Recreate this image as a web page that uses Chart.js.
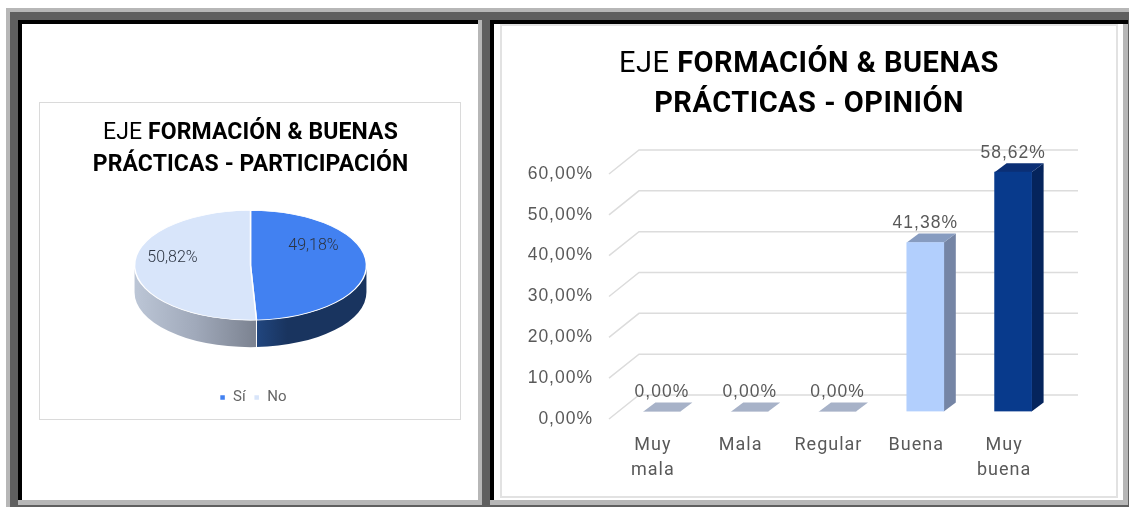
<!DOCTYPE html>
<html lang="es">
<head>
<meta charset="utf-8">
<title>Eje Formación & Buenas Prácticas</title>
<script src="https://cdn.jsdelivr.net/npm/chart.js@4/dist/chart.umd.min.js"></script>
<style>
html,body{margin:0;padding:0;background:#fff;overflow:hidden}
body{width:1129px;height:507px;position:relative}
.r{position:absolute}
canvas{position:absolute;display:block}
</style>
</head>
<body>
<div class="r" style="left:6px;top:8px;width:1123px;height:499px;background:#b7b7b7"></div>
<div class="r" style="left:10px;top:12px;width:1119px;height:495px;background:#5f5f5f"></div>
<div class="r" style="left:18px;top:20px;width:464px;height:485px;background:#b7b7b7"></div>
<div class="r" style="left:18px;top:20px;width:460px;height:480px;background:#000"></div>
<div class="r" style="left:22px;top:24px;width:456px;height:476px;background:#fff"></div>
<div class="r" style="left:490px;top:20px;width:638px;height:485px;background:#b7b7b7"></div>
<div class="r" style="left:490px;top:20px;width:638px;height:4px;background:#000"></div>
<div class="r" style="left:490px;top:20px;width:633px;height:480px;background:#000"></div>
<div class="r" style="left:494px;top:24px;width:629px;height:476px;background:#fff"></div>
<div class="r" style="left:39px;top:102px;width:420px;height:316px;border:1px solid #dadada"></div>
<div class="r" style="left:500px;top:24px;width:614px;height:470px;border:2px solid #e2e2e2"></div>
<canvas id="pie" width="423" height="319" style="left:39px;top:102px"></canvas>
<canvas id="bar" width="618" height="474" style="left:500px;top:24px"></canvas>
<script>
const pieCategories = ['Sí', 'No'];
const pieValues = [49.18, 50.82];
const pieTitle = [[['EJE ', 400], ['FORMACIÓN & BUENAS', 700]], [['PRÁCTICAS - PARTICIPACIÓN', 700]]];

const barCategories = [['Muy', 'mala'], 'Mala', 'Regular', 'Buena', ['Muy', 'buena']];
const barValues = [0, 0, 0, 41.38, 58.62];
const barTitle = [[['EJE ', 400], ['FORMACIÓN & BUENAS', 700]], [['PRÁCTICAS - OPINIÓN', 700]]];

const pct = v => v.toFixed(2).replace('.', ',') + '%';
Chart.defaults.animation = false;
Chart.defaults.responsive = false;
Chart.defaults.plugins.tooltip.enabled = false;

function drawTitle(chart, lines, size, baselines, spacing) {
  const ctx = chart.ctx, cx = chart.width / 2;
  ctx.save();
  ctx.fillStyle = '#000';
  ctx.textBaseline = 'alphabetic';
  ctx.textAlign = 'left';
  ctx.letterSpacing = spacing + 'px';
  lines.forEach((runs, i) => {
    let w = 0;
    runs.forEach(r => { ctx.font = r[1] + ' ' + size + 'px Roboto'; w += ctx.measureText(r[0]).width; });
    let x = cx - w / 2;
    runs.forEach(r => {
      ctx.font = r[1] + ' ' + size + 'px Roboto';
      ctx.fillText(r[0], x, baselines[i]);
      x += ctx.measureText(r[0]).width;
    });
  });
  ctx.restore();
}

/* ---------- 3-D pie ---------- */
const SQUASH = 0.473, PIE_DEPTH = 27;
const pieSides = [['#21467f', '#19345f', '#19345f'], ['#7b8290', '#a0a9ba', '#bcc6d6']];
const pieLabelOffsets = [[63, -19], [-78, -7]];
const pie3d = {
  id: 'pie3d',
  afterLayout(chart) { chart.legend.left += 2.5; chart.legend.right += 2.5; },
  beforeDatasetsDraw(chart) {
    const ctx = chart.ctx, arcs = chart.getDatasetMeta(0).data;
    const a0 = arcs[0], r = a0.outerRadius, ry = r * SQUASH;
    const cx = a0.x, cy = a0.y;
    arcs.forEach((arc, i) => {
      const s = Math.max(arc.startAngle, 0), e = Math.min(arc.endAngle, Math.PI);
      if (e <= s) return;
      const x0 = cx + r * Math.cos(s), x1 = cx + r * Math.cos(e);
      const g = ctx.createLinearGradient(x0, 0, x1, 0);
      const c = pieSides[i];
      if (i === 0) { g.addColorStop(0, c[2]); g.addColorStop(0.72, c[1]); g.addColorStop(1, c[0]); }
      else { g.addColorStop(0, c[0]); g.addColorStop(0.5, c[1]); g.addColorStop(1, c[2]); }
      ctx.beginPath();
      ctx.ellipse(cx, cy, r, ry, 0, s, e);
      ctx.ellipse(cx, cy + PIE_DEPTH, r, ry, 0, e, s, true);
      ctx.closePath();
      ctx.fillStyle = g;
      ctx.fill();
    });
    /* seam on the wall where the two slices meet */
    const seam = arcs[0].endAngle;
    ctx.strokeStyle = '#fff'; ctx.lineWidth = 1;
    ctx.beginPath();
    ctx.moveTo(cx + r * Math.cos(seam), cy + ry * Math.sin(seam));
    ctx.lineTo(cx + r * Math.cos(seam), cy + ry * Math.sin(seam) + PIE_DEPTH);
    ctx.stroke();
    ctx.save();
    ctx.translate(cx, cy); ctx.scale(1, SQUASH); ctx.translate(-cx, -cy);
  },
  afterDatasetsDraw(chart) {
    const ctx = chart.ctx, arcs = chart.getDatasetMeta(0).data;
    ctx.restore();
    ctx.save();
    ctx.font = '300 16px Roboto';
    ctx.fillStyle = '#2c3442';
    ctx.textAlign = 'center'; ctx.textBaseline = 'middle';
    arcs.forEach((arc, i) => {
      ctx.fillText(pct(pieValues[i]), arc.x + pieLabelOffsets[i][0], arc.y + pieLabelOffsets[i][1]);
    });
    ctx.restore();
    drawTitle(chart, pieTitle, 23, [37, 68.7], 0.1);
  }
};
new Chart(document.getElementById('pie'), {
  type: 'pie',
  data: { labels: pieCategories, datasets: [{
    data: pieValues,
    backgroundColor: ['#4281f1', '#d8e5fa'],
    borderColor: '#ffffff', borderWidth: 1.5
  }]},
  options: {
    layout: { padding: { top: 46.6, bottom: 6, left: 6, right: 6 } },
    plugins: {
      legend: { position: 'bottom', labels: { boxWidth: 6, boxHeight: 6, padding: 8, color: '#666666',
        font: { family: 'Roboto', size: 15 } } }
    }
  },
  plugins: [pie3d]
});

/* ---------- 3-D bars ---------- */
const WALL_DX = 30, WALL_DY = 24, BAR_DX = 9, BAR_DY = 7.5, SIDE_DX = 12, SIDE_DY = 9;
const barFronts = ['#a7b2c8', '#a7b2c8', '#a7b2c8', '#b2cffd', '#083a8c'];
const barTops = ['#a7b2c8', '#a7b2c8', '#a7b2c8', '#879cc0', '#0b2f75'];
const barSides = ['#a7b2c8', '#a7b2c8', '#a7b2c8', '#7585a5', '#05245c'];
const bar3d = {
  id: 'bar3d',
  beforeDraw(chart) { chart.ctx.letterSpacing = '1px'; },
  beforeDatasetsDraw(chart) {
    const ctx = chart.ctx, sy = chart.scales.y, a = chart.chartArea;
    ctx.save();
    ctx.strokeStyle = '#dcdcdc'; ctx.lineWidth = 1.5;
    sy.ticks.forEach(t => {
      const y = sy.getPixelForValue(t.value);
      ctx.beginPath();
      ctx.moveTo(a.left, y);
      ctx.lineTo(a.left + WALL_DX, y - WALL_DY);
      ctx.lineTo(a.right + WALL_DX, y - WALL_DY);
      ctx.stroke();
    });
    ctx.restore();
    ctx.save();
    ctx.translate(BAR_DX, -BAR_DY);
    chart.getDatasetMeta(0).data.forEach((b, i) => {
      const l = b.x - b.width / 2, r = b.x + b.width / 2, top = b.y, base = b.base;
      ctx.fillStyle = barSides[i];
      ctx.beginPath();
      ctx.moveTo(r, top); ctx.lineTo(r + SIDE_DX, top - SIDE_DY);
      ctx.lineTo(r + SIDE_DX, base - SIDE_DY); ctx.lineTo(r, base); ctx.closePath(); ctx.fill();
      ctx.fillStyle = barTops[i];
      ctx.beginPath();
      ctx.moveTo(l, top); ctx.lineTo(l + SIDE_DX, top - SIDE_DY);
      ctx.lineTo(r + SIDE_DX, top - SIDE_DY); ctx.lineTo(r, top); ctx.closePath(); ctx.fill();
    });
  },
  afterDatasetsDraw(chart) {
    const ctx = chart.ctx;
    ctx.restore();
    ctx.save();
    ctx.font = '17.5px "Liberation Sans"';
    ctx.fillStyle = '#595959';
    ctx.textAlign = 'center'; ctx.textBaseline = 'middle';
    chart.getDatasetMeta(0).data.forEach((b, i) => {
      ctx.fillText(pct(barValues[i]), b.x + BAR_DX, b.y - BAR_DY - 19);
    });
    ctx.restore();
    drawTitle(chart, barTitle, 29, [47.7, 87.7], 0.5);
  }
};
new Chart(document.getElementById('bar'), {
  type: 'bar',
  data: { labels: barCategories, datasets: [{
    data: barValues, backgroundColor: barFronts, borderWidth: 0, barThickness: 37
  }]},
  options: {
    layout: { padding: { top: 150, right: 70, left: 0, bottom: 0 } },
    plugins: { legend: { display: false } },
    scales: {
      x: {
        grid: { display: false, drawTicks: false }, border: { display: false },
        afterFit(s) { s.height = 79; },
        ticks: { autoSkip: false, maxRotation: 0, minRotation: 0, padding: 14, color: '#595959',
          font: { family: 'Roboto', size: 18, lineHeight: 1.39 } }
      },
      y: {
        min: 0, max: 60,
        grid: { display: false, drawTicks: false }, border: { display: false },
        afterFit(s) { s.width = 109; },
        ticks: { stepSize: 10, padding: 16, color: '#595959', callback: v => pct(v),
          font: { family: 'Liberation Sans', size: 17.5 } }
      }
    }
  },
  plugins: [bar3d]
});
</script>
</body>
</html>
